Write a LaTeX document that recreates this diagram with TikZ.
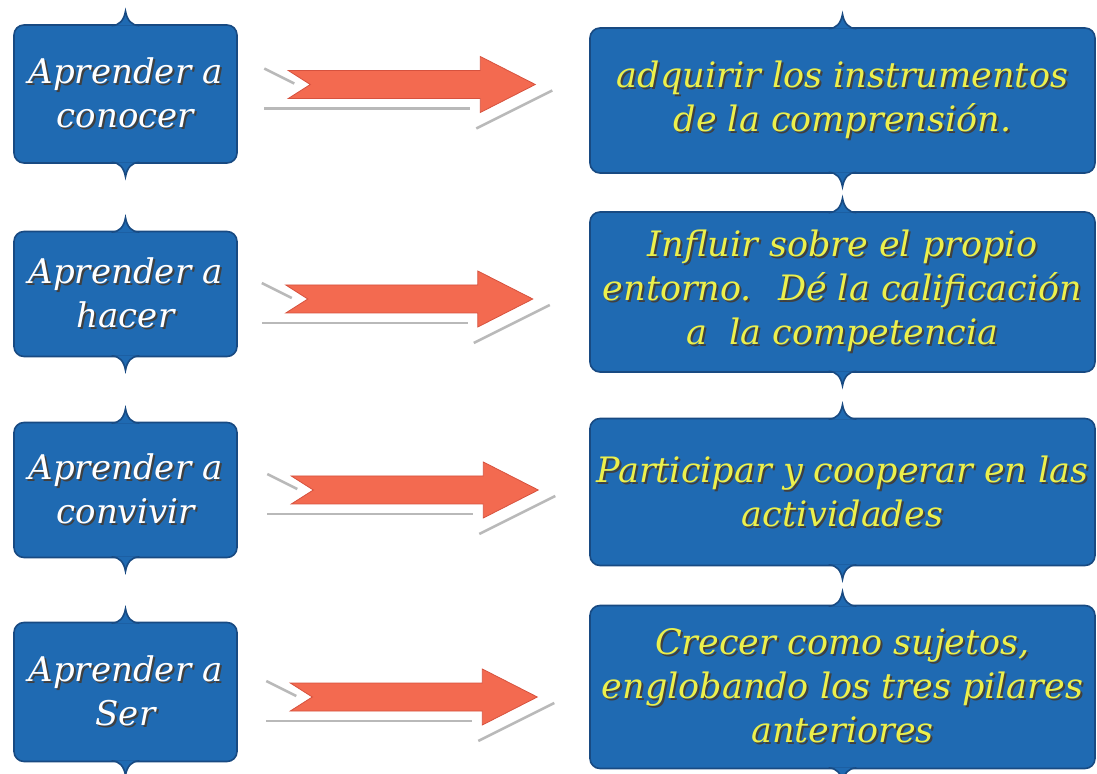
\documentclass[tikz,border=0pt]{standalone}
\usepackage{fontspec}
\setmainfont{DejaVu Serif}
\usepackage{tikz}
\usetikzlibrary{positioning, calc}

\definecolor{boxfill}{RGB}{31,106,178}
\definecolor{boxedge}{RGB}{24,74,130}
\definecolor{txtyellow}{RGB}{236,240,76}
\definecolor{arrowfill}{RGB}{243,106,80}
\definecolor{arrowedge}{RGB}{214,82,62}

% text with a small dark drop shadow
\newcommand{\sombra}[1]{\leavevmode\rlap{\kern1pt\raisebox{-1pt}{\color{black!75}#1}}#1}

\begin{document}
\begin{tikzpicture}[x=1pt, y=1pt, node distance=100pt,
  box/.style={rectangle, rounded corners=5pt, fill=boxfill, draw=boxedge, line width=0.8pt,
    align=center, inner sep=1pt},
  lbox/.style={box, minimum width=111.5pt, text=white, font=\itshape\fontsize{17}{22}\selectfont},
  rbox/.style={box, minimum width=252.5pt, text=txtyellow, font=\itshape\fontsize{17.5}{22}\selectfont},
  cusp/.style={fill=boxfill, draw=boxedge, line width=0.8pt},
  arrowshade/.style={draw=gray!55, line width=1.3pt},
  bigarrow/.pic={
    \draw[arrowshade] (-74,8) -- (-59,0.5);
    \draw[arrowshade] (-74,-12) -- (29,-12);
    \draw[arrowshade] (32,-22) -- (70,-3);
    \filldraw[fill=arrowfill, draw=arrowedge, line width=0.4pt]
      (-62,7) -- (34,7) -- (34,14) -- (61.5,0) -- (34,-14) -- (34,-7) -- (-62,-7) -- (-51,0) -- cycle;
  }]
\useasboundingbox (0,0) rectangle (548.5,-387);

\node (L1) [lbox, minimum height=69pt] at (62.75,-47) {\sombra{Aprender a}\\ \sombra{conocer}};
\node (L2) [lbox, minimum height=62.5pt, below of=L1] {\sombra{Aprender a}\\ \sombra{hacer}};
\node (L3) [lbox, minimum height=67.5pt, below of=L2, yshift=2pt] {\sombra{Aprender a}\\ \sombra{convivir}};
\node (L4) [lbox, minimum height=69.5pt, below of=L3, yshift=-1pt] {\sombra{Aprender a}\\ \sombra{Ser}};

\node (R1) [rbox, minimum height=72.5pt, right of=L1, xshift=258.5pt, yshift=-3.25pt]
  {\sombra{adquirir los instrumentos}\\ \sombra{de la comprensión.}};
\node (R2) [rbox, minimum height=80pt, below of=R1, yshift=4.25pt]
  {\sombra{Influir sobre el propio}\\ \sombra{entorno.~ Dé la calificación}\\ \sombra{a~ la competencia}};
\node (R3) [rbox, minimum height=73.5pt, below of=R2]
  {\sombra{Participar y cooperar en las}\\ \sombra{actividades}};
\node (R4) [rbox, minimum height=81.5pt, below of=R3, yshift=2.5pt]
  {\sombra{Crecer como sujetos,}\\ \sombra{englobando los tres pilares}\\ \sombra{anteriores}};

% small points on top and bottom of every box
\foreach \n in {L1,L2,L3,L4,R1,R2,R3,R4}{
  \path[cusp] ([shift={(-7,-0.7)}]\n.north) .. controls ([shift={(-3,-0.7)}]\n.north) and ([shift={(-0.8,2)}]\n.north)
    .. ([shift={(0,6.5)}]\n.north) .. controls ([shift={(0.8,2)}]\n.north) and ([shift={(3,-0.7)}]\n.north)
    .. ([shift={(7,-0.7)}]\n.north);
  \path[cusp] ([shift={(-7,0.7)}]\n.south) .. controls ([shift={(-3,0.7)}]\n.south) and ([shift={(-0.8,-2)}]\n.south)
    .. ([shift={(0,-6.5)}]\n.south) .. controls ([shift={(0.8,-2)}]\n.south) and ([shift={(3,0.7)}]\n.south)
    .. ([shift={(7,0.7)}]\n.south);
}

\pic at ([shift={(87.25,4.75)}]L1.east) {bigarrow};
\pic at ([shift={(86,-2.5)}]L2.east) {bigarrow};
\pic at ([shift={(88.75,0)}]L3.east) {bigarrow};
\pic at ([shift={(88.25,-2.5)}]L4.east) {bigarrow};
\end{tikzpicture}
\end{document}
